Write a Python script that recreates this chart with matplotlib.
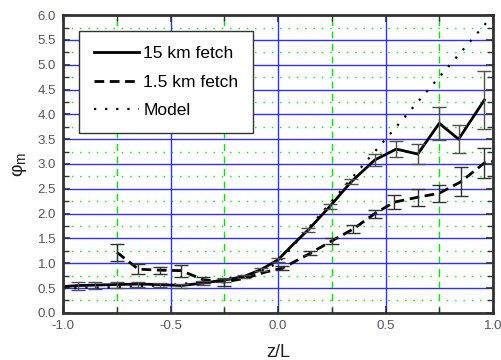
import matplotlib
matplotlib.use('Agg')
import matplotlib.pyplot as plt
from matplotlib.ticker import MultipleLocator

plt.rcParams['font.family'] = ['Liberation Sans', 'DejaVu Sans']

# 15 km fetch (solid)
x_15km = [-1.0, -0.93, -0.85, -0.75, -0.65, -0.55, -0.45, -0.35, -0.25, -0.16, -0.08,
          0.0, 0.07, 0.14, 0.24, 0.34, 0.45, 0.55, 0.65, 0.75, 0.84, 0.96]
y_15km = [0.53, 0.55, 0.56, 0.57, 0.58, 0.57, 0.55, 0.60, 0.66, 0.73, 0.87,
          1.07, 1.38, 1.67, 2.14, 2.64, 3.08, 3.30, 3.20, 3.82, 3.50, 4.29]
err_15km = [0, 0.08, 0.07, 0.06, 0.05, 0.04, 0.04, 0.04, 0.04, 0.03, 0.03,
            0.04, 0, 0.04, 0.05, 0.05, 0.12, 0.16, 0.20, 0.33, 0.28, 0.58]

# 1.5 km fetch (dashed)
x_1km = [-0.75, -0.65, -0.55, -0.45, -0.35, -0.25, -0.15, -0.06, 0.02, 0.15, 0.25,
         0.35, 0.45, 0.54, 0.65, 0.75, 0.85, 0.96, 1.0]
y_1km = [1.22, 0.88, 0.86, 0.85, 0.67, 0.62, 0.70, 0.82, 0.90, 1.20, 1.45,
         1.69, 2.00, 2.23, 2.33, 2.41, 2.64, 3.02, 3.05]
err_1km = [0.17, 0.10, 0.07, 0.12, 0.06, 0.07, 0, 0, 0.04, 0.04, 0.06,
           0.08, 0.08, 0.14, 0.17, 0.17, 0.29, 0.31, 0]

# model (dotted)
x_model = [-1.0, -0.75, -0.5, -0.25, -0.1, 0.0, 0.25, 0.5, 0.75, 0.98]
y_model = [0.49, 0.52, 0.56, 0.67, 0.81, 1.0, 2.25, 3.5, 4.75, 5.9]

fig = plt.figure(figsize=(5.01, 3.6), dpi=100)
ax = fig.add_axes([0.126, 0.131, 0.858, 0.827])

ax.set_xlim(-1.0, 1.0)
ax.set_ylim(0, 6.0)
ax.xaxis.set_major_locator(MultipleLocator(0.5))
ax.xaxis.set_minor_locator(MultipleLocator(0.25))
ax.yaxis.set_major_locator(MultipleLocator(0.5))
ax.yaxis.set_minor_locator(MultipleLocator(0.25))

ax.grid(which='major', axis='both', color='#3030ff', lw=1.0, ls='-')
ax.grid(which='minor', axis='y', color='#00ee00', lw=1.0, ls=(0, (1, 5)))
ax.grid(which='minor', axis='x', color='#00ee00', lw=1.0, ls=(0, (5, 4)))
ax.set_axisbelow(True)

ax.plot(x_model, y_model, color='black', lw=1.6, ls=(0, (1, 4)), label='Model')
ax.plot(x_15km, y_15km, color='black', lw=2.0, ls='-', label='15 km fetch')
ax.plot(x_1km, y_1km, color='black', lw=2.0, ls=(0, (3.5, 2)), label='1.5 km fetch')


def bars(xs, ys, es, col):
    sel = [i for i, e in enumerate(es) if e > 0]
    ax.errorbar([xs[i] for i in sel], [ys[i] for i in sel], yerr=[es[i] for i in sel],
                fmt='none', ecolor=col, elinewidth=1.0, capsize=5, capthick=1.0)


bars(x_15km, y_15km, err_15km, '#505050')
bars(x_1km, y_1km, err_1km, '#303030')

handles, labels = ax.get_legend_handles_labels()
order = [1, 2, 0]
leg = ax.legend([handles[i] for i in order], [labels[i] for i in order],
                loc='upper left', bbox_to_anchor=(0.037, 0.946), borderaxespad=0,
                fontsize=12.5, handlelength=2.6, handletextpad=0.25, labelspacing=0.78,
                borderpad=0.85, fancybox=False, framealpha=1, edgecolor='#333333')
leg.get_frame().set_linewidth(1.0)

for s in ax.spines.values():
    s.set_linewidth(2.0)
    s.set_color('#333333')

ax.tick_params(which='both', direction='in', top=True, right=True, colors='#333333',
               labelcolor='#555560', labelsize=9.5)
ax.tick_params(which='major', length=5, width=1.2, pad=5)
ax.tick_params(which='minor', length=4, width=1.0)
ax.set_xticklabels([f'{v:.1f}' for v in ax.get_xticks()])
ax.set_yticks([i * 0.5 for i in range(13)])
ax.set_yticklabels([f'{i * 0.5:.1f}' for i in range(13)])

ax.set_xlabel('z/L', fontsize=13, color='#222222', labelpad=9)
ax.set_ylabel('φ$_\\mathregular{m}$', fontsize=14, color='#222222', labelpad=6)

fig.savefig('out.png', dpi=100)
